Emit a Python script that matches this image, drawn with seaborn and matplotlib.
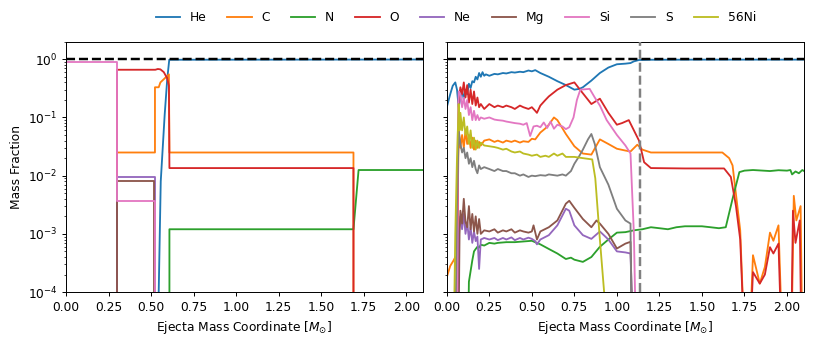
import pandas as pd
import matplotlib
matplotlib.use('Agg')
import matplotlib.pyplot as plt
import seaborn as sns

ELEMENTS = ['He', 'C', 'N', 'O', 'Ne', 'Mg', 'Si', 'S', '56Ni']
FLOOR = 1e-6  # "absent" -> below the plotted range

# ---- left panel: stepwise progenitor composition ----
he_left_x = [0.0, 0.535, 0.545, 0.557, 0.570, 0.580, 0.595, 0.607, 2.1]
he_left_y = [FLOOR, FLOOR, 1e-4, 8e-3, 0.035, 0.11, 0.45, 0.98, 0.99]
c_left_x = [0.30, 0.30, 0.523, 0.523, 0.545, 0.555, 0.59, 0.605, 0.608, 1.69, 1.69]
c_left_y = [FLOOR, 0.025, 0.025, 0.33, 0.33, 0.40, 0.50, 0.55, 0.025, 0.025, FLOOR]
n_left_x = [0.608, 0.608, 1.69, 1.72, 2.1]
n_left_y = [FLOOR, 0.0012, 0.0012, 0.0125, 0.0125]
o_left_x = [0.30, 0.30, 0.525, 0.54, 0.555, 0.575, 0.595, 0.605, 0.608, 1.69, 1.69]
o_left_y = [FLOOR, 0.66, 0.66, 0.68, 0.67, 0.60, 0.47, 0.35, 0.0135, 0.0135, FLOOR]
ne_left_x = [0.30, 0.30, 0.523, 0.523]
ne_left_y = [FLOOR, 0.0093, 0.0093, FLOOR]
mg_left_x = [0.30, 0.30, 0.52, 0.52]
mg_left_y = [FLOOR, 0.008, 0.008, FLOOR]
si_left_x = [0.0, 0.298, 0.298, 0.525, 0.525]
si_left_y = [0.88, 0.88, 0.0037, 0.0037, FLOOR]

# ---- right panel: mixed ejecta composition ----
he_right_x = [0.00, 0.02, 0.035, 0.05, 0.06, 0.07, 0.08, 0.09, 0.10, 0.11, 0.12, 0.13, 0.14,
              0.15, 0.16, 0.17, 0.18, 0.19, 0.20, 0.21, 0.22, 0.23, 0.25, 0.28, 0.30, 0.33,
              0.35, 0.38, 0.40, 0.43, 0.45, 0.48, 0.50, 0.52, 0.55, 0.60, 0.65, 0.70, 0.75,
              0.78, 0.80, 0.85, 0.90, 0.95, 1.00, 1.05, 1.08, 1.10, 1.13, 1.20, 1.50, 1.80, 2.10]
he_right_y = [0.15, 0.25, 0.35, 0.40, 0.30, 0.15, 0.22, 0.30, 0.20, 0.30, 0.25, 0.38, 0.32,
              0.42, 0.40, 0.50, 0.45, 0.58, 0.50, 0.60, 0.52, 0.55, 0.52, 0.56, 0.55, 0.58,
              0.57, 0.60, 0.59, 0.61, 0.60, 0.64, 0.62, 0.65, 0.58, 0.50, 0.42, 0.36, 0.30,
              0.31, 0.33, 0.43, 0.58, 0.72, 0.82, 0.84, 0.86, 0.92, 0.97, 0.98, 0.985, 0.985, 0.985]

c_right_x = [0.00, 0.02, 0.04, 0.05, 0.06, 0.065, 0.07, 0.08, 0.09, 0.10, 0.11, 0.12, 0.13,
             0.14, 0.15, 0.16, 0.17, 0.18, 0.19, 0.20, 0.22, 0.25, 0.28, 0.30, 0.33, 0.35,
             0.38, 0.40, 0.43, 0.45, 0.48, 0.50, 0.52, 0.55, 0.58, 0.60, 0.63, 0.65, 0.68,
             0.70, 0.75, 0.80, 0.85, 0.90, 0.95, 1.00, 1.05, 1.08, 1.12, 1.15, 1.20, 1.40,
             1.62, 1.66, 1.68, 1.725, 1.765, 1.80, 1.84, 1.87, 1.90, 1.92, 1.95, 1.985, 2.02,
             2.04, 2.055, 2.08, 2.095]
c_right_y = [1.8e-4, 2.8e-4, 3.5e-4, 4e-4, 2e-4, 5e-3, 0.06, 0.03, 0.05, 0.03, 0.06, 0.035,
             0.05, 0.03, 0.045, 0.028, 0.04, 0.03, 0.038, 0.033, 0.04, 0.042, 0.038, 0.040,
             0.037, 0.040, 0.038, 0.040, 0.037, 0.039, 0.038, 0.043, 0.042, 0.055, 0.065,
             0.075, 0.10, 0.09, 0.065, 0.052, 0.032, 0.024, 0.023, 0.042, 0.035, 0.029, 0.027,
             0.026, 0.034, 0.028, 0.025, 0.025, 0.025, 0.020, 0.015, 1.15e-3, FLOOR, 4.3e-4,
             1.4e-4, 2.7e-4, 1.05e-3, 7.6e-4, 1.4e-3, FLOOR, FLOOR, 4.5e-3, 1.7e-3, 3.0e-3, FLOOR]

n_right_x = [0.12, 0.13, 0.15, 0.16, 0.17, 0.18, 0.19, 0.20, 0.22, 0.25, 0.28, 0.30, 0.35,
             0.40, 0.45, 0.50, 0.55, 0.60, 0.65, 0.70, 0.73, 0.75, 0.80, 0.85, 0.90, 0.95,
             1.00, 1.05, 1.10, 1.15, 1.20, 1.25, 1.30, 1.35, 1.40, 1.50, 1.55, 1.60, 1.64,
             1.68, 1.72, 1.75, 1.80, 1.90, 1.95, 2.00, 2.02, 2.03, 2.05, 2.07, 2.09, 2.10]
n_right_y = [FLOOR, 1.5e-4, 3.5e-4, 5e-4, 5.5e-4, 6e-4, 5.8e-4, 6.5e-4, 6.3e-4, 7e-4, 6.8e-4,
             7e-4, 7.2e-4, 7.2e-4, 7.4e-4, 7.6e-4, 6.6e-4, 5.5e-4, 4.6e-4, 3.7e-4, 3.9e-4,
             3.6e-4, 3.3e-4, 4.0e-4, 6e-4, 8e-4, 1.05e-3, 1.07e-3, 1.15e-3, 1.2e-3, 1.3e-3,
             1.25e-3, 1.2e-3, 1.3e-3, 1.35e-3, 1.35e-3, 1.3e-3, 1.25e-3, 1.3e-3, 4e-3, 0.0115,
             0.0122, 0.0125, 0.012, 0.0124, 0.0122, 0.0125, 0.0105, 0.0118, 0.011, 0.0125, 0.012]

o_right_x = [0.06, 0.065, 0.07, 0.08, 0.09, 0.10, 0.11, 0.12, 0.13, 0.14, 0.15, 0.16, 0.17,
             0.18, 0.19, 0.20, 0.22, 0.25, 0.28, 0.30, 0.33, 0.35, 0.38, 0.40, 0.43, 0.45,
             0.48, 0.50, 0.52, 0.53, 0.55, 0.58, 0.60, 0.65, 0.70, 0.75, 0.80, 0.85, 0.90,
             0.95, 1.00, 1.03, 1.07, 1.10, 1.13, 1.16, 1.20, 1.40, 1.63, 1.67, 1.70, 1.725,
             1.765, 1.80, 1.84, 1.87, 1.90, 1.92, 1.95, 1.98, 2.02, 2.035, 2.05, 2.075, 2.09]
o_right_y = [FLOOR, 0.01, 0.20, 0.33, 0.25, 0.40, 0.22, 0.36, 0.18, 0.30, 0.17, 0.28, 0.16,
             0.22, 0.15, 0.17, 0.14, 0.17, 0.15, 0.16, 0.15, 0.16, 0.15, 0.14, 0.16, 0.15,
             0.14, 0.15, 0.13, 0.12, 0.16, 0.20, 0.23, 0.30, 0.36, 0.40, 0.26, 0.17, 0.21,
             0.12, 0.075, 0.08, 0.09, 0.06, 0.04, 0.017, 0.0135, 0.0133, 0.0133, 0.0095, 0.003,
             8e-4, FLOOR, 2.2e-4, 1.4e-4, 2e-4, 5.9e-4, 4.6e-4, 6.8e-4, FLOOR, FLOOR, 2.5e-3,
             7e-4, 1.7e-3, FLOOR]

ne_right_x = [0.06, 0.07, 0.08, 0.09, 0.10, 0.11, 0.12, 0.13, 0.14, 0.15, 0.16, 0.17, 0.18,
              0.19, 0.20, 0.22, 0.25, 0.28, 0.30, 0.33, 0.35, 0.38, 0.40, 0.43, 0.45, 0.48,
              0.50, 0.52, 0.53, 0.55, 0.60, 0.65, 0.70, 0.72, 0.75, 0.80, 0.85, 0.90, 0.95,
              1.00, 1.05, 1.08, 1.11]
ne_right_y = [FLOOR, 1e-3, 2e-3, 1.2e-3, 2.2e-3, 1e-3, 1.6e-3, 8e-4, 1.3e-3, 7e-4, 1.1e-3,
              7.5e-4, 9e-4, 2.5e-4, 8e-4, 8.5e-4, 8e-4, 8.5e-4, 7.8e-4, 8.5e-4, 8e-4, 8.7e-4,
              7.8e-4, 8.5e-4, 8e-4, 8.6e-4, 8.2e-4, 7.5e-4, 6.6e-4, 8e-4, 9.5e-4, 1.4e-3,
              2.7e-3, 2.5e-3, 1.4e-3, 9.5e-4, 8.2e-4, 1.1e-3, 8e-4, 5e-4, 4.8e-4, 4.6e-4, FLOOR]

mg_right_x = [0.065, 0.075, 0.08, 0.09, 0.10, 0.11, 0.12, 0.13, 0.14, 0.15, 0.16, 0.17, 0.18,
              0.19, 0.20, 0.22, 0.25, 0.28, 0.30, 0.33, 0.35, 0.38, 0.40, 0.43, 0.45, 0.48,
              0.50, 0.51, 0.53, 0.55, 0.60, 0.65, 0.70, 0.72, 0.75, 0.80, 0.85, 0.88, 0.90,
              0.95, 1.00, 1.05, 1.08, 1.10]
mg_right_y = [FLOOR, 1e-3, 2.5e-3, 1.5e-3, 4e-3, 1.6e-3, 1.3e-3, 3e-3, 1.2e-3, 2.2e-3, 1.1e-3,
              2e-3, 1.0e-3, 1.8e-3, 1.0e-3, 1.15e-3, 1.1e-3, 1.2e-3, 1.05e-3, 1.15e-3, 1.1e-3,
              1.2e-3, 1.05e-3, 1.15e-3, 1.1e-3, 1.05e-3, 1.1e-3, 1.4e-3, 8e-4, 1.1e-3, 1.3e-3,
              1.7e-3, 3.3e-3, 3.7e-3, 2.8e-3, 1.8e-3, 1.3e-3, 1.7e-3, 1.5e-3, 1.0e-3, 5.6e-4,
              6.8e-4, 7.3e-4, FLOOR]

si_right_x = [0.06, 0.065, 0.07, 0.08, 0.09, 0.10, 0.11, 0.12, 0.13, 0.14, 0.15, 0.16, 0.17,
              0.18, 0.19, 0.20, 0.22, 0.25, 0.28, 0.30, 0.33, 0.35, 0.38, 0.40, 0.43, 0.45,
              0.47, 0.49, 0.51, 0.53, 0.55, 0.57, 0.59, 0.61, 0.63, 0.65, 0.68, 0.70, 0.72,
              0.745, 0.765, 0.785, 0.84, 0.87, 0.90, 0.94, 1.00, 1.05, 1.08, 1.10, 1.12]
si_right_y = [FLOOR, 0.05, 0.28, 0.25, 0.15, 0.22, 0.14, 0.20, 0.11, 0.15, 0.09, 0.13, 0.09,
              0.11, 0.09, 0.10, 0.095, 0.10, 0.092, 0.09, 0.088, 0.085, 0.082, 0.08, 0.078,
              0.075, 0.08, 0.048, 0.07, 0.072, 0.068, 0.082, 0.066, 0.085, 0.064, 0.075, 0.07,
              0.063, 0.068, 0.10, 0.20, 0.30, 0.31, 0.22, 0.16, 0.09, 0.05, 0.033, 0.024, 1e-3, FLOOR]

s_right_x = [0.045, 0.06, 0.07, 0.08, 0.09, 0.10, 0.11, 0.12, 0.13, 0.14, 0.15, 0.16, 0.17,
             0.18, 0.19, 0.20, 0.22, 0.25, 0.28, 0.30, 0.33, 0.35, 0.38, 0.40, 0.43, 0.45,
             0.48, 0.50, 0.52, 0.55, 0.58, 0.60, 0.63, 0.65, 0.68, 0.70, 0.73, 0.75, 0.78,
             0.80, 0.83, 0.85, 0.87, 0.90, 0.95, 1.00, 1.05, 1.08, 1.09]
s_right_y = [FLOOR, 3e-3, 0.06, 0.035, 0.025, 0.03, 0.02, 0.025, 0.016, 0.02, 0.014, 0.018,
             0.013, 0.011, 0.015, 0.013, 0.014, 0.013, 0.012, 0.013, 0.012, 0.012, 0.011, 0.011,
             0.010, 0.0105, 0.0095, 0.010, 0.0098, 0.0102, 0.010, 0.0105, 0.0102, 0.010, 0.0105,
             0.010, 0.012, 0.016, 0.022, 0.028, 0.042, 0.052, 0.035, 0.014, 0.007, 0.0027,
             0.0017, 0.0015, FLOOR]

ni_right_x = [0.035, 0.05, 0.06, 0.07, 0.075, 0.08, 0.09, 0.10, 0.11, 0.12, 0.13, 0.14, 0.15,
              0.16, 0.17, 0.18, 0.19, 0.20, 0.22, 0.25, 0.28, 0.30, 0.33, 0.35, 0.38, 0.40,
              0.43, 0.45, 0.48, 0.50, 0.53, 0.55, 0.58, 0.60, 0.63, 0.65, 0.68, 0.70, 0.75,
              0.80, 0.855, 0.873, 0.90, 0.925, 0.935]
ni_right_y = [FLOOR, 1e-3, 0.02, 0.17, 0.06, 0.12, 0.06, 0.10, 0.05, 0.07, 0.035, 0.06, 0.03,
              0.045, 0.028, 0.04, 0.03, 0.037, 0.033, 0.032, 0.031, 0.030, 0.028, 0.029, 0.026,
              0.025, 0.026, 0.024, 0.023, 0.022, 0.023, 0.021, 0.022, 0.021, 0.024, 0.022, 0.024,
              0.021, 0.021, 0.020, 0.019, 0.009, 8e-4, 1e-4, FLOOR]

shock_mass = 1.133  # grey dashed vertical line in the right panel


def to_frame(series):
    """Long-form frame (element, mass, frac) from {element: (x, y)}."""
    rows = []
    for el, (xs, ys) in series.items():
        rows.append(pd.DataFrame({'element': el, 'mass': xs, 'frac': ys}))
    return pd.concat(rows, ignore_index=True)


left = to_frame({
    'He': (he_left_x, he_left_y), 'C': (c_left_x, c_left_y), 'N': (n_left_x, n_left_y),
    'O': (o_left_x, o_left_y), 'Ne': (ne_left_x, ne_left_y), 'Mg': (mg_left_x, mg_left_y),
    'Si': (si_left_x, si_left_y),
})
right = to_frame({
    'He': (he_right_x, he_right_y), 'C': (c_right_x, c_right_y), 'N': (n_right_x, n_right_y),
    'O': (o_right_x, o_right_y), 'Ne': (ne_right_x, ne_right_y), 'Mg': (mg_right_x, mg_right_y),
    'Si': (si_right_x, si_right_y), 'S': (s_right_x, s_right_y), '56Ni': (ni_right_x, ni_right_y),
})

palette = dict(zip(ELEMENTS, sns.color_palette('tab10', len(ELEMENTS))))

DPI = 88
fig, axes = plt.subplots(1, 2, figsize=(814 / DPI, 342 / DPI), dpi=DPI, sharey=True)
fig.subplots_adjust(left=66 / 814, right=804 / 814, bottom=0.146, top=0.878, wspace=0.066)

for ax, data in zip(axes, [left, right]):
    sns.lineplot(data=data, x='mass', y='frac', hue='element', hue_order=ELEMENTS,
                 palette=palette, estimator=None, sort=False, lw=1.5, ax=ax,
                 legend=(ax is axes[1]))
    ax.axhline(1.0, color='k', ls='--', lw=2, zorder=5)
    ax.set_yscale('log')
    ax.set_xlim(0, 2.1)
    ax.set_ylim(1e-4, 2)
    ax.set_xlabel(r'Ejecta Mass Coordinate [$M_{\odot}$]')
    ax.set_ylabel('')

axes[1].axvline(shock_mass, color='grey', ls='--', lw=2, zorder=5)
axes[0].set_ylabel('Mass Fraction')

handles, labels = axes[1].get_legend_handles_labels()
axes[1].get_legend().remove()
fig.legend(handles, labels, loc='upper center', bbox_to_anchor=(0.56, 1.0),
           ncol=len(ELEMENTS), frameon=False, columnspacing=1.7)

fig.savefig('out.png', dpi=DPI)
